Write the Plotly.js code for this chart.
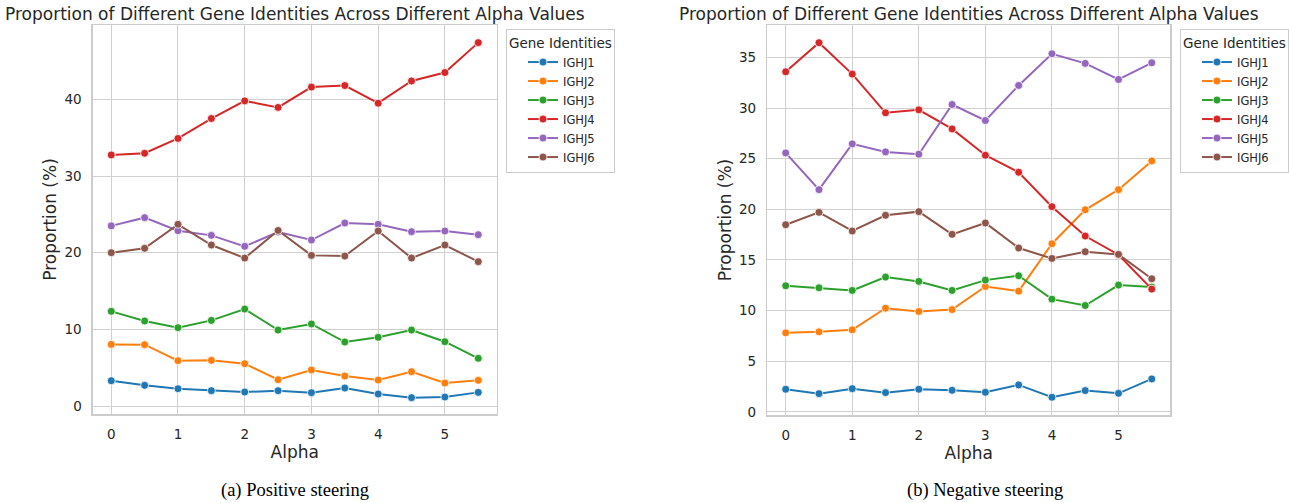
<!DOCTYPE html>
<html><head><meta charset="utf-8">
<script src="https://cdn.plot.ly/plotly-3.0.1.min.js"></script>
<style>body{margin:0;background:#fff}#chart{width:1289px;height:503px}</style>
</head><body><div id="chart"></div>
<script>
const alpha = [0, 0.5, 1, 1.5, 2, 2.5, 3, 3.5, 4, 4.5, 5, 5.5];
const genes = ['IGHJ1', 'IGHJ2', 'IGHJ3', 'IGHJ4', 'IGHJ5', 'IGHJ6'];
const colors = ['#1f77b4', '#ff7f0e', '#2ca02c', '#d62728', '#9467bd', '#8c564b'];

// (a) Positive steering
const posIGHJ1 = [3.3, 2.7, 2.26, 2.0, 1.83, 2.0, 1.74, 2.35, 1.57, 1.09, 1.17, 1.78];
const posIGHJ2 = [8.04, 8.0, 5.91, 5.96, 5.52, 3.43, 4.7, 3.91, 3.39, 4.48, 3.0, 3.35];
const posIGHJ3 = [12.35, 11.09, 10.22, 11.17, 12.65, 9.91, 10.7, 8.35, 8.96, 9.91, 8.39, 6.22];
const posIGHJ4 = [32.75, 32.97, 34.9, 37.5, 39.8, 38.95, 41.6, 41.8, 39.5, 42.4, 43.5, 47.4];
const posIGHJ5 = [23.5, 24.57, 22.87, 22.26, 20.83, 22.7, 21.65, 23.87, 23.7, 22.74, 22.83, 22.35];
const posIGHJ6 = [20.0, 20.57, 23.7, 21.0, 19.3, 22.9, 19.65, 19.57, 22.83, 19.3, 21.0, 18.83];

// (b) Negative steering
const negIGHJ1 = [2.23, 1.8, 2.29, 1.9, 2.23, 2.13, 1.93, 2.66, 1.44, 2.1, 1.83, 3.25];
const negIGHJ2 = [7.8, 7.9, 8.1, 10.24, 9.91, 10.1, 12.38, 11.92, 16.6, 19.95, 21.94, 24.78];
const negIGHJ3 = [12.45, 12.25, 11.99, 13.31, 12.88, 11.99, 13.01, 13.44, 11.13, 10.5, 12.52, 12.32];
const negIGHJ4 = [33.58, 36.45, 33.35, 29.53, 29.82, 27.94, 25.34, 23.66, 20.26, 17.36, 15.52, 12.12];
const negIGHJ5 = [25.57, 21.94, 26.46, 25.67, 25.44, 30.35, 28.77, 32.23, 35.36, 34.41, 32.82, 34.47];
const negIGHJ6 = [18.48, 19.7, 17.86, 19.41, 19.77, 17.53, 18.65, 16.18, 15.15, 15.81, 15.55, 13.14];

const posSeries = [posIGHJ1, posIGHJ2, posIGHJ3, posIGHJ4, posIGHJ5, posIGHJ6];
const negSeries = [negIGHJ1, negIGHJ2, negIGHJ3, negIGHJ4, negIGHJ5, negIGHJ6];

const panelTitle = 'Proportion of Different Gene Identities Across Different Alpha Values';
const xTitle = 'Alpha';
const yTitle = 'Proportion (%)';
const legendTitle = 'Gene Identities';
const captionA = '(a) Positive steering';
const captionB = '(b) Negative steering';
const xTicks = [0, 1, 2, 3, 4, 5];
const yTicksA = [0, 10, 20, 30, 40];
const yTicksB = [0, 5, 10, 15, 20, 25, 30, 35];

const W = 1289, H = 503;
const px = v => v / W;
const py = v => 1 - v / H;
const FONT = 'DejaVu Sans, sans-serif';
const TXT = '#262626';
const GRID = '#d0d0d0';
const FRAME = '#cccccc';

const traces = [];
function addTraces(series, xa, ya, legend) {
  series.forEach((vals, i) => {
    traces.push({
      x: alpha, y: vals, type: 'scatter', mode: 'lines+markers',
      name: genes[i], xaxis: xa, yaxis: ya, legend: legend,
      line: {color: colors[i], width: 2},
      marker: {color: colors[i], size: 8, line: {color: '#ffffff', width: 0.8}},
      hoverinfo: 'x+y+name'
    });
  });
}
addTraces(posSeries, 'x', 'y', 'legend');
addTraces(negSeries, 'x2', 'y2', 'legend2');

function xAxis(domain, anchor) {
  return {
    domain: domain, anchor: anchor, range: [-0.275, 5.775],
    tickvals: xTicks, ticks: '', showgrid: true, gridcolor: GRID, gridwidth: 1,
    zeroline: false, showline: true, mirror: true, linecolor: FRAME, linewidth: 1.5,
    tickfont: {family: FONT, size: 13.5, color: TXT}, ticklabelstandoff: 7,
    title: {text: xTitle, font: {family: FONT, size: 17, color: TXT}, standoff: 5}
  };
}
function yAxis(domain, anchor, range, ticks) {
  return {
    domain: domain, anchor: anchor, range: range,
    tickvals: ticks, ticks: '', showgrid: true, gridcolor: GRID, gridwidth: 1,
    zeroline: false, showline: true, mirror: true, linecolor: FRAME, linewidth: 1.5,
    tickfont: {family: FONT, size: 13.5, color: TXT}, ticklabelstandoff: 7,
    title: {text: yTitle, font: {family: FONT, size: 17, color: TXT}, standoff: 3}
  };
}

function legendCfg(x) {
  return {
    x: x, y: py(29), xanchor: 'left', yanchor: 'top',
    bgcolor: 'rgba(255,255,255,0.8)', bordercolor: FRAME, borderwidth: 1,
    font: {family: FONT, size: 11.5, color: TXT},
    title: {text: legendTitle, font: {family: FONT, size: 13.5, color: TXT}, side: 'top'},
    itemwidth: 30, tracegroupgap: 0, indentation: 16
  };
}

const layout = {
  width: W, height: H,
  margin: {l: 0, r: 0, t: 0, b: 0},
  paper_bgcolor: '#ffffff', plot_bgcolor: '#ffffff',
  showlegend: true,
  xaxis: xAxis([px(93), px(497)], 'y'),
  yaxis: yAxis([py(414), py(25)], 'x', [-1.04, 49.7], yTicksA),
  xaxis2: xAxis([px(768), px(1171)], 'y2'),
  yaxis2: yAxis([py(415), py(25)], 'x2', [-0.31, 38.2], yTicksB),
  legend: legendCfg(px(506)),
  legend2: legendCfg(px(1181)),
  annotations: [
    {text: panelTitle, x: px(295), y: py(14), xref: 'paper', yref: 'paper', xanchor: 'center', yanchor: 'middle', showarrow: false, font: {family: FONT, size: 17, color: TXT}},
    {text: panelTitle, x: px(969.5), y: py(14), xref: 'paper', yref: 'paper', xanchor: 'center', yanchor: 'middle', showarrow: false, font: {family: FONT, size: 17, color: TXT}},
    {text: captionA, x: px(295), y: py(490), xref: 'paper', yref: 'paper', xanchor: 'center', yanchor: 'middle', showarrow: false, font: {family: 'Liberation Serif, Times New Roman, serif', size: 18.5, color: '#000000'}},
    {text: captionB, x: px(986), y: py(490), xref: 'paper', yref: 'paper', xanchor: 'center', yanchor: 'middle', showarrow: false, font: {family: 'Liberation Serif, Times New Roman, serif', size: 18.5, color: '#000000'}}
  ]
};

Plotly.newPlot('chart', traces, layout, {displayModeBar: false, staticPlot: true});
</script></body></html>
